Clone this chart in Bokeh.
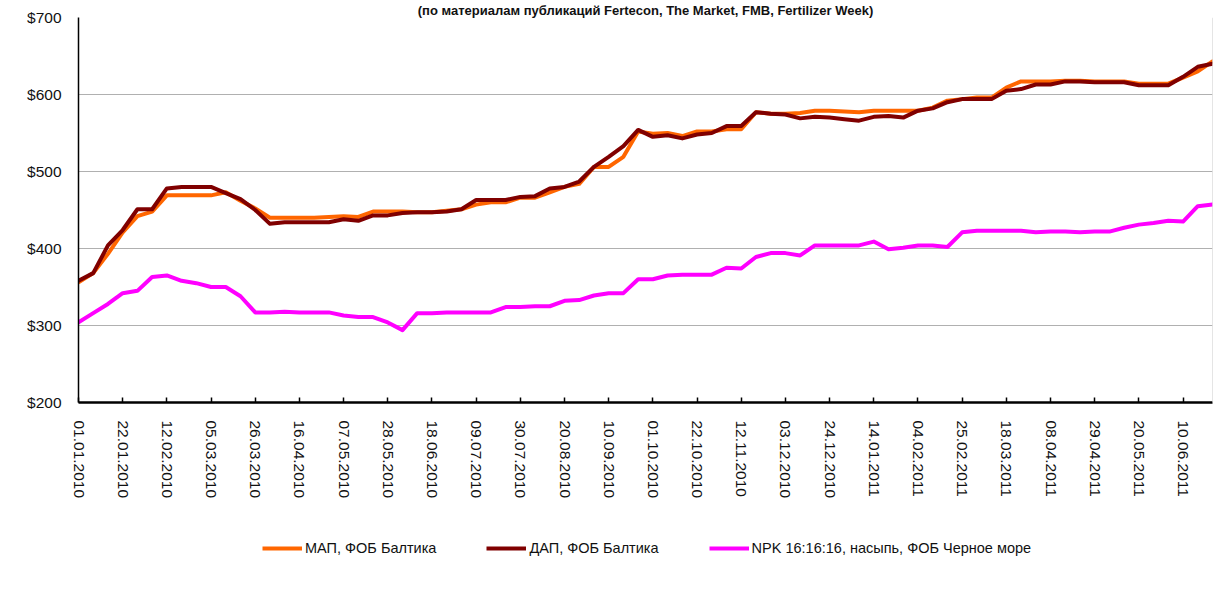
import pandas as pd
from bokeh.plotting import figure
from bokeh.layouts import column
from bokeh.models import (FixedTicker, NumeralTickFormatter, Legend, LegendItem,
                          Span, Range1d)
from bokeh.embed import file_html
from bokeh.resources import INLINE

# weekly categories (01.01.2010 ... 24.06.2011)
weeks = pd.date_range("2010-01-01", periods=78, freq="7D").strftime("%d.%m.%Y").tolist()
tick_labels = weeks[::3]

map_fob_baltic = [356, 368, 393, 421, 442, 448, 469, 469, 469, 469,
                  473, 462, 452, 440, 440, 440, 440, 441, 442, 441,
                  448, 448, 448, 447, 447, 449, 451, 457, 460, 460,
                  466, 466, 473, 480, 484, 506, 506, 519, 552, 549,
                  550, 546, 552, 552, 555, 555, 577, 575, 575, 576,
                  579, 579, 578, 577, 579, 579, 579, 579, 583, 592,
                  594, 596, 596, 609, 617, 617, 617, 618, 618, 617,
                  617, 617, 614, 614, 614, 622, 630, 643]

dap_fob_baltic = [358, 368, 404, 424, 451, 451, 478, 480, 480, 480,
                  472, 464, 450, 432, 434, 434, 434, 434, 438, 436,
                  443, 443, 446, 447, 447, 448, 451, 463, 463, 463,
                  467, 468, 478, 480, 487, 506, 519, 533, 554, 545,
                  547, 543, 548, 550, 559, 559, 577, 575, 574, 569,
                  571, 570, 568, 566, 571, 572, 570, 579, 582, 590,
                  594, 594, 594, 605, 607, 613, 613, 617, 617, 616,
                  616, 616, 612, 612, 612, 623, 636, 640]

npk_black_sea = [304, 316, 328, 342, 345, 363, 365, 358, 355, 350,
                 350, 338, 317, 317, 318, 317, 317, 317, 313, 311,
                 311, 304, 294, 316, 316, 317, 317, 317, 317, 324,
                 324, 325, 325, 332, 333, 339, 342, 342, 360, 360,
                 365, 366, 366, 366, 375, 374, 389, 394, 394, 391,
                 404, 404, 404, 404, 409, 399, 401, 404, 404, 402,
                 421, 423, 423, 423, 423, 421, 422, 422, 421, 422,
                 422, 427, 431, 433, 436, 435, 455, 457]

series_names = ["МАП, ФОБ Балтика", "ДАП, ФОБ Балтика",
                "NPK 16:16:16, насыпь, ФОБ Черное море"]
series_colors = ["#FF6600", "#800000", "#FF00FF"]
y_ticks = [200, 300, 400, 500, 600, 700]
title_text = "(по материалам публикаций Fertecon, The Market, FMB, Fertilizer Week)"

x = list(range(len(weeks)))
tick_pos = x[::3]
all_series = [map_fob_baltic, dap_fob_baltic, npk_black_sea]

FONT = "Liberation Sans"
TEXT_COLOR = "#111111"
LINE_W = 4

p = figure(width=1220, height=510, output_backend="svg", toolbar_location=None,
           x_range=Range1d(0, len(weeks) - 1), y_range=Range1d(200, 700),
           min_border_left=78, min_border_right=8, min_border_top=17,
           min_border_bottom=108)
p.outline_line_color = None
p.background_fill_color = "white"
p.border_fill_color = "white"

p.title.text = title_text
p.title.align = "center"
p.title.text_font = FONT
p.title.text_font_size = "13px"
p.title.text_font_style = "bold"
p.title.text_color = TEXT_COLOR
p.title.standoff = 0
p.title.offset = -17

for ys, col in zip(all_series, series_colors):
    p.line(x, ys, line_color=col, line_width=LINE_W, line_join="round", line_cap="round")

# grid
p.xgrid.grid_line_color = None
p.ygrid.grid_line_color = "#b0b0b0"
p.ygrid.grid_line_width = 1
p.ygrid.ticker = FixedTicker(ticks=y_ticks[1:])

# y axis
p.yaxis.ticker = FixedTicker(ticks=y_ticks)
p.yaxis.formatter = NumeralTickFormatter(format="$0")
p.yaxis.major_tick_in = 0
p.yaxis.major_tick_out = 0
p.yaxis.minor_tick_line_color = None
p.yaxis.major_label_standoff = 17
p.yaxis.axis_line_width = 1.5
p.yaxis.axis_line_color = "black"
p.yaxis.major_label_text_font = FONT
p.yaxis.major_label_text_font_size = "15.5px"
p.yaxis.major_label_text_color = TEXT_COLOR

# x axis
p.xaxis.ticker = FixedTicker(ticks=tick_pos)
p.xaxis.major_label_overrides = {i: lab for i, lab in zip(tick_pos, tick_labels)}
p.xaxis.major_label_orientation = "vertical"
p.xaxis.major_tick_in = 5
p.xaxis.major_tick_out = 0
p.xaxis.major_tick_line_width = 1.5
p.xaxis.minor_tick_line_color = None
p.xaxis.major_label_standoff = 18
p.xaxis.axis_line_width = 2.5
p.xaxis.axis_line_color = "black"
p.xaxis.major_label_text_font = FONT
p.xaxis.major_label_text_font_size = "15.5px"
p.xaxis.major_label_text_color = TEXT_COLOR

# right edge of the plot area
p.add_layout(Span(location=len(weeks) - 1, dimension="height",
                  line_color="#cccccc", line_width=1))

# legend strip below the chart (series drawn out of view, only their legend shows)
pl = figure(width=1220, height=78, output_backend="svg", toolbar_location=None,
            x_range=Range1d(0, len(weeks) - 1), y_range=Range1d(0, 1),
            x_axis_location=None, y_axis_location=None,
            min_border_left=0, min_border_right=0, min_border_top=0, min_border_bottom=0)
pl.outline_line_color = None
pl.xgrid.grid_line_color = None
pl.ygrid.grid_line_color = None
leg_renderers = [pl.line(x, ys, line_color=c, line_width=LINE_W)
                 for ys, c in zip(all_series, series_colors)]

legend = Legend(items=[LegendItem(label=n, renderers=[r]) for n, r in zip(series_names, leg_renderers)],
                orientation="horizontal", location=(174, 22))
legend.label_text_font = FONT
legend.label_text_font_size = "14.5px"
legend.label_text_color = TEXT_COLOR
legend.glyph_width = 40
legend.glyph_height = 14
legend.label_standoff = 3
legend.spacing = 50
legend.margin = 0
legend.padding = 10
legend.border_line_alpha = 0
legend.background_fill_alpha = 0
pl.add_layout(legend)

layout = column(p, pl, spacing=0)
open("out.html", "w").write(file_html(layout, INLINE))
